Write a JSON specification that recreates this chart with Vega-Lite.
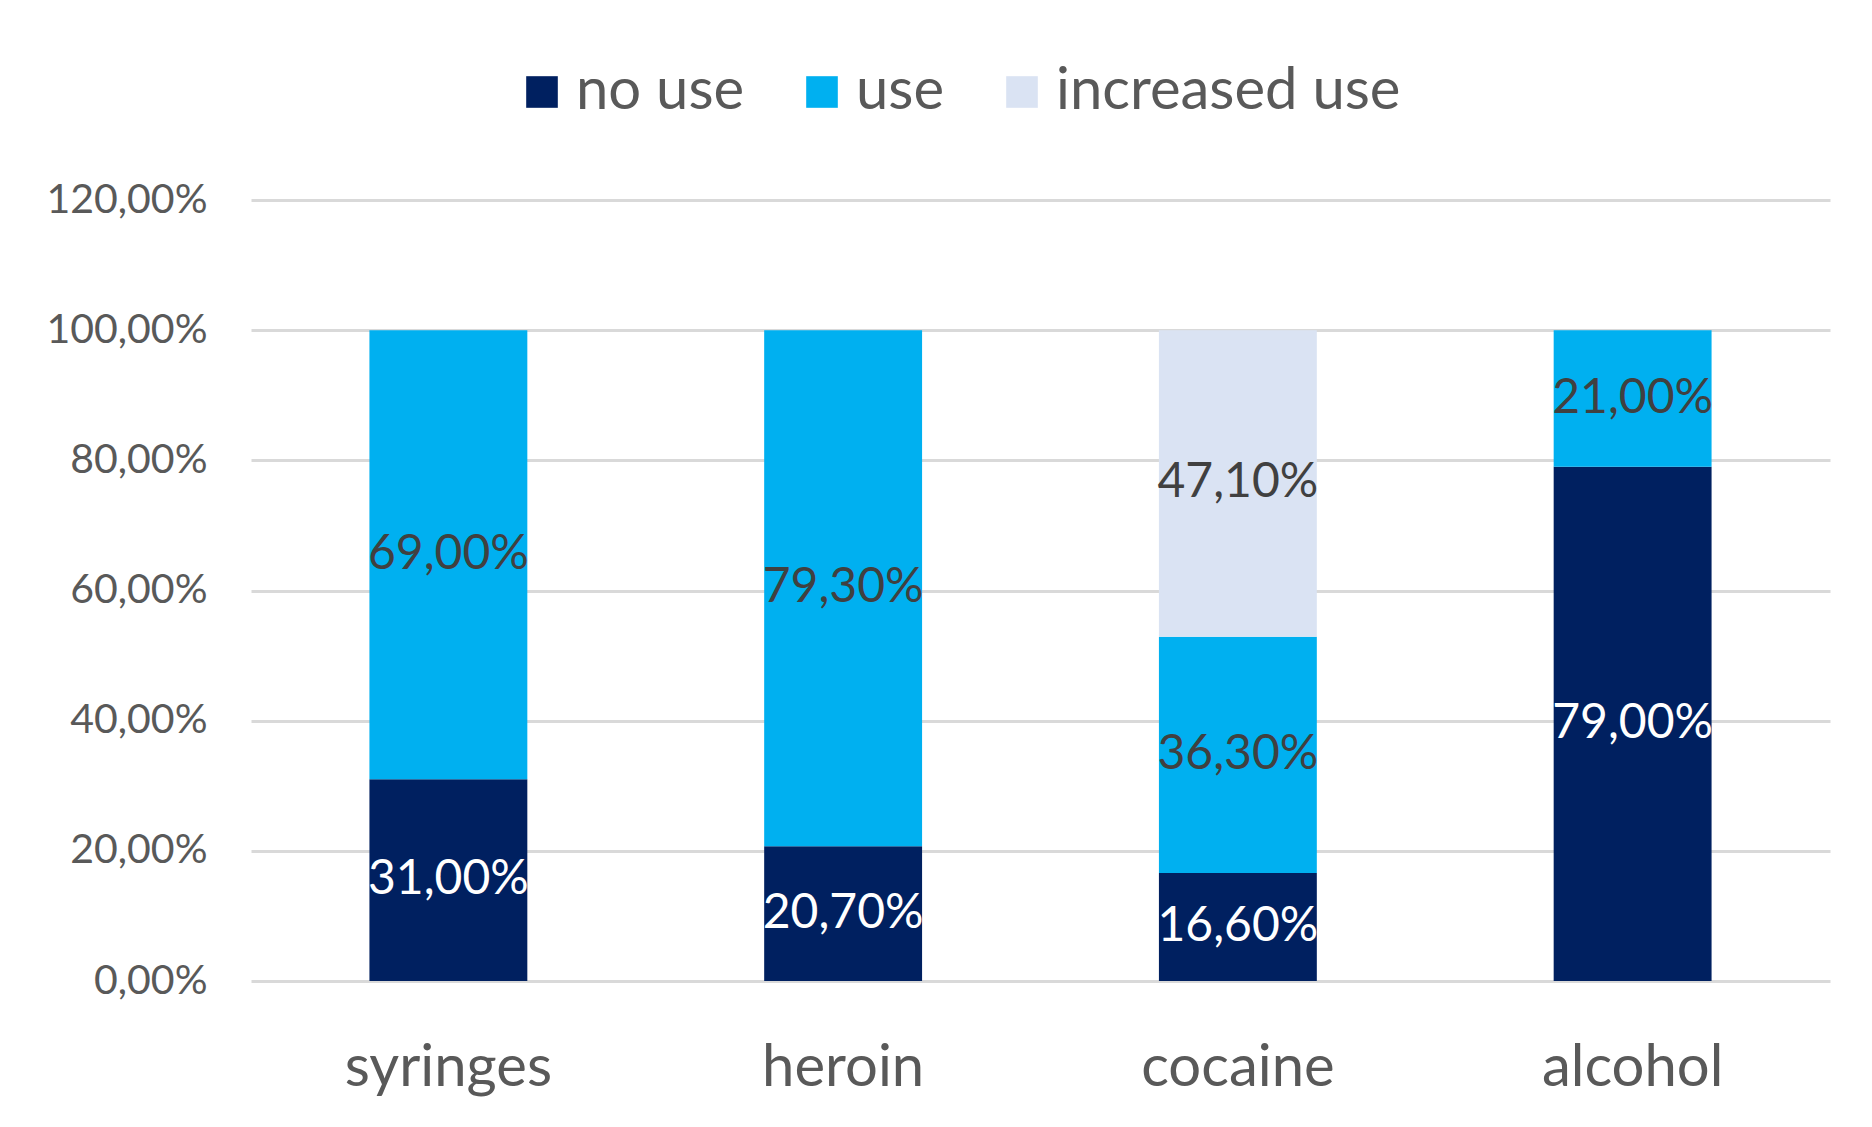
{
  "$schema": "https://vega.github.io/schema/vega-lite/v6.json",
  "autosize": {"type": "none"},
  "padding": {"left": 251, "top": 200, "right": 42, "bottom": 146},
  "width": 1579,
  "height": 781,
  "background": "white",
  "config": {
    "locale": {"number": {"decimal": ",", "thousands": ".", "grouping": [3], "currency": ["", " €"]}},
    "font": "Lato",
    "view": {"stroke": null}
  },
  "data": {
    "values": [
      {"drug": "syringes", "cat": "no use", "k": 1, "value": 0.31},
      {"drug": "syringes", "cat": "use", "k": 2, "value": 0.69},
      {"drug": "heroin", "cat": "no use", "k": 1, "value": 0.207},
      {"drug": "heroin", "cat": "use", "k": 2, "value": 0.793},
      {"drug": "cocaine", "cat": "no use", "k": 1, "value": 0.166},
      {"drug": "cocaine", "cat": "use", "k": 2, "value": 0.363},
      {"drug": "cocaine", "cat": "increased use", "k": 3, "value": 0.471},
      {"drug": "alcohol", "cat": "no use", "k": 1, "value": 0.79},
      {"drug": "alcohol", "cat": "use", "k": 2, "value": 0.21}
    ]
  },
  "transform": [
    {"stack": "value", "groupby": ["drug"], "sort": [{"field": "k", "order": "ascending"}], "as": ["y0", "y1"]},
    {"calculate": "(datum.y0 + datum.y1) / 2", "as": "mid"}
  ],
  "encoding": {
    "x": {
      "field": "drug", "type": "nominal",
      "sort": ["syringes", "heroin", "cocaine", "alcohol"],
      "scale": {"paddingInner": 0.6, "paddingOuter": 0.3},
      "axis": {
        "title": null, "domain": false, "ticks": false, "labelAngle": 0,
        "labelFontSize": 58, "labelColor": "#595959", "labelBaseline": "alphabetic",
        "labelPadding": 104, "labelLimit": 0
      }
    }
  },
  "layer": [
    {
      "mark": {"type": "bar"},
      "encoding": {
        "y": {
          "field": "y0", "type": "quantitative",
          "scale": {"domain": [0, 1.2], "nice": false},
          "axis": {
            "title": null, "domain": false, "ticks": false,
            "values": [0, 0.2, 0.4, 0.6, 0.8, 1.0, 1.2],
            "format": ".2%", "labelFontSize": 41, "labelColor": "#595959",
            "labelPadding": 44, "gridColor": "#D9D9D9", "gridWidth": 3, "labelLimit": 0
          }
        },
        "y2": {"field": "y1"},
        "color": {
          "field": "cat", "type": "nominal",
          "scale": {"domain": ["no use", "use", "increased use"], "range": ["#002060", "#00B0F0", "#DAE3F3"]},
          "legend": {
            "title": null, "orient": "none", "direction": "horizontal",
            "legendX": 262, "legendY": -137,
            "symbolType": "square", "symbolSize": 1000, "symbolStrokeWidth": 0,
            "labelFontSize": 58, "labelColor": "#595959", "labelOffset": 5,
            "columnPadding": 48, "symbolOpacity": 1, "labelLimit": 0
          }
        }
      }
    },
    {
      "mark": {"type": "text", "fontSize": 48, "baseline": "middle", "align": "center"},
      "encoding": {
        "y": {"field": "mid", "type": "quantitative"},
        "text": {"field": "value", "type": "quantitative", "format": ".2%"},
        "color": {
          "condition": {"test": "datum.cat === 'no use'", "value": "#FFFFFF"},
          "value": "#404040"
        }
      }
    }
  ]
}
